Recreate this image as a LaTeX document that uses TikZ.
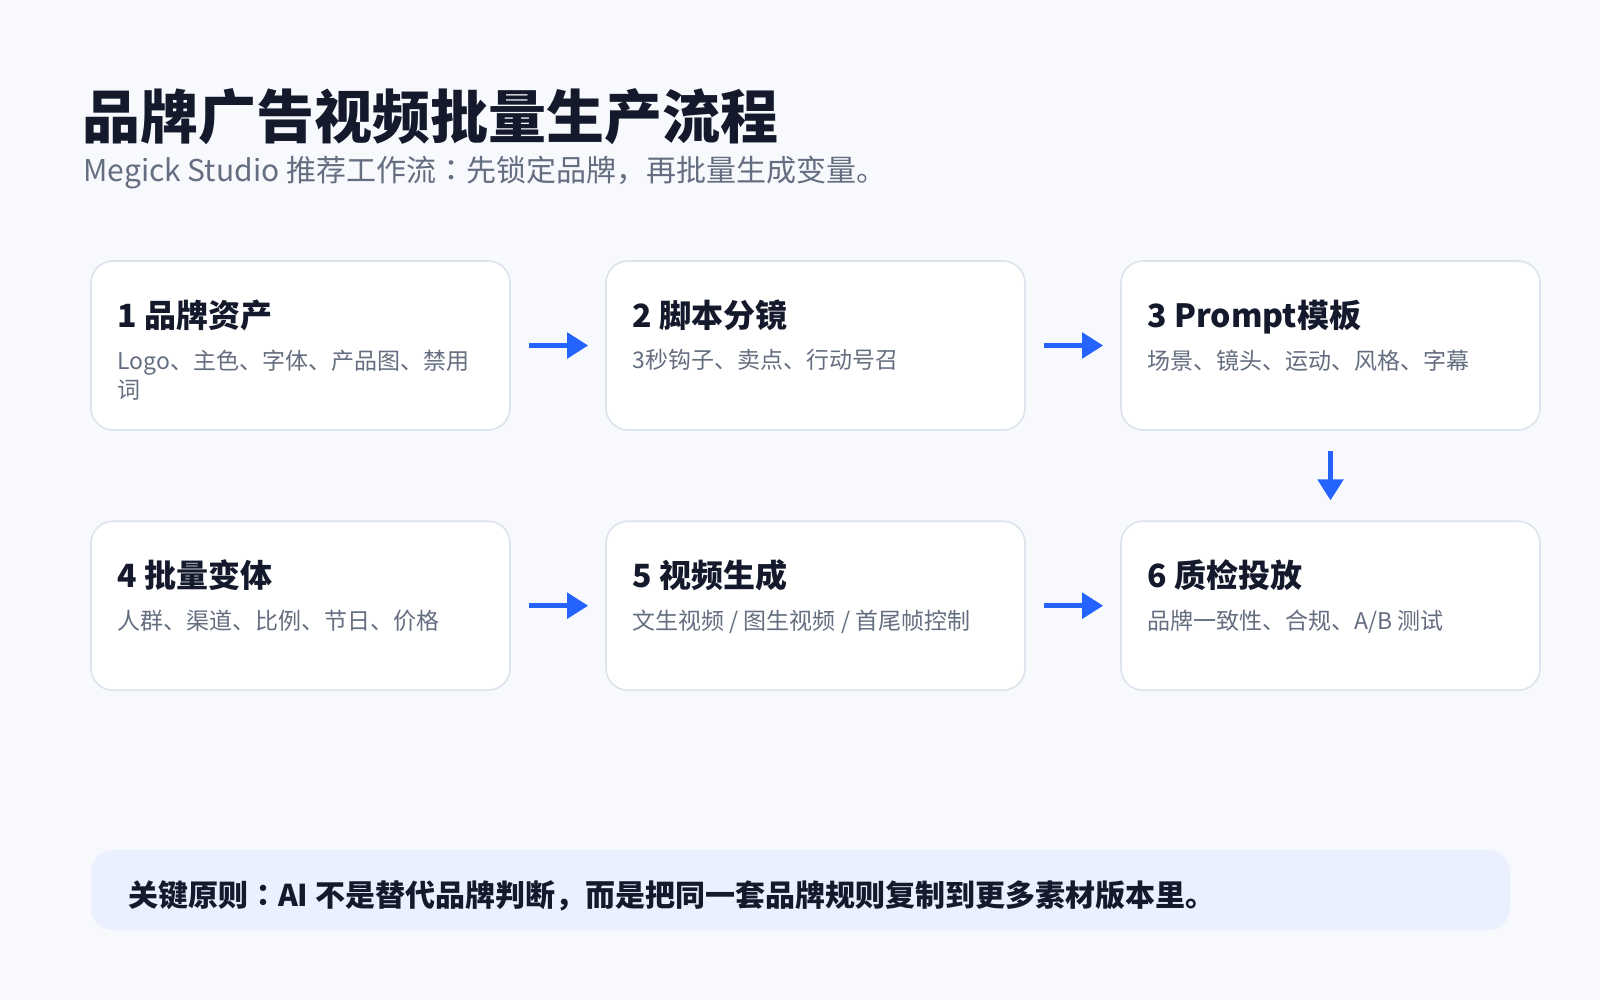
\documentclass[tikz,border=0pt]{standalone}
\usepackage{fontspec}
\setmainfont{Noto Sans CJK SC}
\newfontfamily\jpfont{Noto Sans CJK JP}
\newcommand{\zcolon}{{\jpfont ：}}
\usepackage{tikz}
\usetikzlibrary{arrows.meta,positioning,calc}
\definecolor{pagebg}{RGB}{247,249,253}
\definecolor{cardline}{RGB}{221,227,237}
\definecolor{inkdark}{RGB}{20,26,44}
\definecolor{inkgray}{RGB}{100,110,128}
\definecolor{flowblue}{RGB}{37,99,255}
\definecolor{notefill}{RGB}{234,240,254}
\tikzset{
  card/.style={draw=cardline,line width=0.8pt,fill=white,rounded corners=11pt,
    minimum width=209.5pt,minimum height=84.5pt,inner sep=0pt},
  cardtitle/.style={anchor=base west,inner sep=0pt,text=inkdark,
    font=\fontsize{16}{19}\selectfont\bfseries},
  carddesc/.style={anchor=north west,inner sep=0pt,text=inkgray,align=left,
    font=\fontsize{11.5}{14.5}\selectfont},
  flow/.style={->,flowblue,line width=2.5pt},
}
\begin{document}
\begin{tikzpicture}[x=0.5pt,y=-0.5pt,>={Triangle[length=10.5pt,width=12.5pt]}]
  \useasboundingbox (0,0) rectangle (1600,1000);
  \fill[pagebg] (0,0) rectangle (1600,1000);
  \node[anchor=base west,inner sep=0pt,text=inkdark,font=\fontsize{29}{34}\selectfont\bfseries]
    (title) at (82,139) {品牌广告视频批量生产流程};
  \node[anchor=base west,inner sep=0pt,text=inkgray,font=\fontsize{15}{18}\selectfont]
    (subtitle) at (83,182) {Megick Studio 推荐工作流\zcolon 先锁定品牌，再批量生成变量。};
  \node[card] (brand) at (300.5,345.5) {};
  \node[card,right=47.2pt of brand] (script) {};
  \node[card,right=47.2pt of script] (prompt) {};
  \node[card,below=44.8pt of brand] (batch) {};
  \node[card,right=47.2pt of batch] (video) {};
  \node[card,right=47.2pt of video] (check) {};
  \foreach \n/\t/\d in {brand/1 品牌资产/{Logo、主色、字体、产品图、禁用\\词},
      script/2 脚本分镜/3秒钩子、卖点、行动号召,
      prompt/3 Prompt模板/场景、镜头、运动、风格、字幕,
      batch/4 批量变体/人群、渠道、比例、节日、价格,
      video/5 视频生成/{文生视频 / 图生视频 / 首尾帧控制},
      check/6 质检投放/{品牌一致性、合规、A/B 测试}} {
    \node[cardtitle] (\n-t) at ([xshift=13.5pt,yshift=-33.5pt]\n.north west) {\t};
    \node[carddesc] (\n-d) at ([xshift=13.5pt,yshift=-44.5pt]\n.north west) {\d};
  }
  \draw[flow,shorten <=9pt,shorten >=8.5pt] (brand) -- (script);
  \draw[flow,shorten <=9pt,shorten >=8.5pt] (script) -- (prompt);
  \draw[flow,shorten <=10pt,shorten >=10pt] (prompt) -- (check);
  \draw[flow,shorten <=9pt,shorten >=8.5pt] (batch) -- (video);
  \draw[flow,shorten <=9pt,shorten >=8.5pt] (video) -- (check);
  \node[fill=notefill,rounded corners=11pt,minimum width=709.5pt,minimum height=40pt,
    inner sep=0pt] (note) at (800.5,890) {};
  \node[anchor=base west,inner sep=0pt,text=inkdark,font=\fontsize{15}{18}\selectfont\bfseries]
    (note-t) at ([xshift=18.5pt,yshift=-8pt]note.west)
    {关键原则\zcolon AI 不是替代品牌判断，而是把同一套品牌规则复制到更多素材版本里。};
\end{tikzpicture}
\end{document}
